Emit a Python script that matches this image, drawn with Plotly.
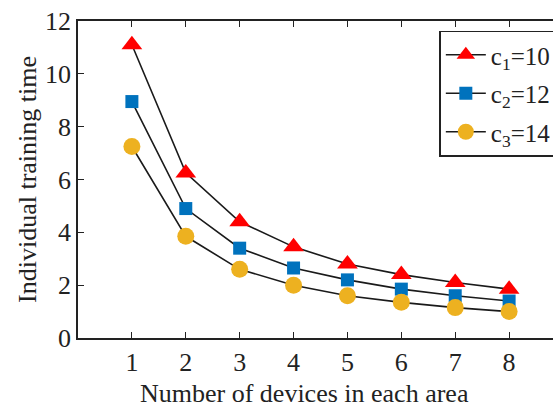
import plotly.graph_objects as go

devices = [1, 2, 3, 4, 5, 6, 7, 8]
c1_vals = [11.1, 6.25, 4.4, 3.45, 2.8, 2.4, 2.1, 1.85]
c2_vals = [8.95, 4.9, 3.4, 2.65, 2.2, 1.85, 1.6, 1.4]
c3_vals = [7.25, 3.85, 2.6, 2.0, 1.6, 1.35, 1.15, 1.0]
names = ["c<sub>1</sub>=10", "c<sub>2</sub>=12", "c<sub>3</sub>=14"]
x_ticks = [1, 2, 3, 4, 5, 6, 7, 8]
y_ticks = [0, 2, 4, 6, 8, 10, 12]
x_title = "Number of devices in each area"
y_title = "Individual training time"

font = "Liberation Serif, Times New Roman, serif"
fig = go.Figure()
styles = [
    dict(symbol="triangle-up", color="#FF0000", size=18),
    dict(symbol="square", color="#0072BD", size=13),
    dict(symbol="circle", color="#EDB120", size=17),
]
for i, (vals, name, st) in enumerate(zip([c1_vals, c2_vals, c3_vals], names, styles)):
    fig.add_trace(go.Scatter(
        x=devices, y=vals, name=name, mode="lines+markers", legendgroup=f"g{i}",
        line=dict(color="#1a1a1a", width=1.6),
        marker=dict(symbol=st["symbol"], color=st["color"], size=st["size"], line=dict(width=0)),
    ))

fig.update_layout(
    width=565, height=409,
    margin=dict(l=78, r=0, t=21, b=71),
    plot_bgcolor="white", paper_bgcolor="white",
    font=dict(family=font, size=26, color="#222222"),
    showlegend=True,
    legend=dict(x=0.745, xanchor="left", y=0.97, yanchor="top",
                bordercolor="#222222", borderwidth=1.5, bgcolor="white",
                font=dict(size=25), itemwidth=40, traceorder="grouped", tracegroupgap=3),
    annotations=[dict(text=x_title, xref="paper", yref="paper", x=0.467, y=0,
                      yshift=-55, xanchor="center", yanchor="middle", showarrow=False,
                      font=dict(size=26))],
)
fig.update_xaxes(
    range=[0, 9], tickvals=x_ticks, ticks="inside", ticklen=6, tickcolor="#222222", tickwidth=1.3,
    showline=True, linecolor="#222222", linewidth=1.5, mirror="ticks", showgrid=False, zeroline=False,
    tickfont=dict(size=26),
)
fig.update_yaxes(
    range=[0, 12], tickvals=y_ticks, ticks="inside", ticklen=6, tickcolor="#222222", tickwidth=1.3,
    showline=True, linecolor="#222222", linewidth=1.5,
    mirror="ticks", showgrid=False, zeroline=False,
    title=dict(text=y_title, font=dict(size=26), standoff=1),
    tickfont=dict(size=26),
)
fig.write_html("out.html", config={"displayModeBar": False},
               post_script="document.body.style.margin='0';document.body.style.overflow='hidden';")
